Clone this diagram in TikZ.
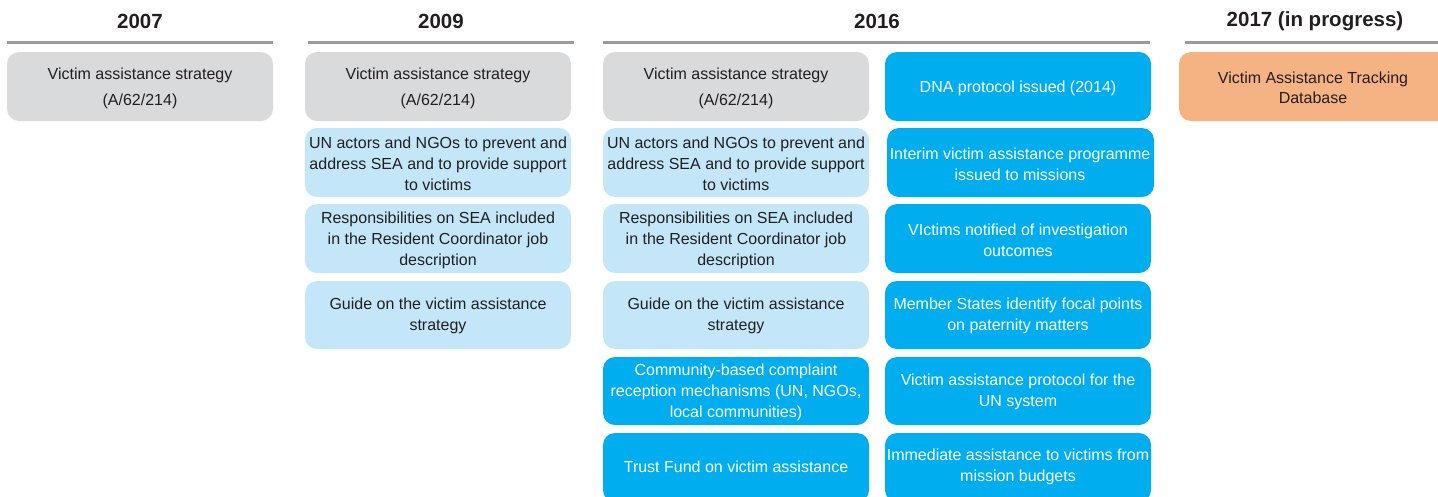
\documentclass[tikz,border=0pt]{standalone}
\usepackage{fontspec}
\setmainfont{Liberation Sans}
\definecolor{boxgray}{HTML}{D9DADC}
\definecolor{lightblue}{HTML}{C3E7F8}
\definecolor{unblue}{HTML}{00AEEF}
\definecolor{peach}{HTML}{F5B283}
\definecolor{rulegray}{HTML}{9A9A9C}
\definecolor{txt}{HTML}{231F20}
\begin{document}
\begin{tikzpicture}[x=1pt,y=-1pt,
  cardtext/.style={font=\fontsize{16}{21}\selectfont, align=center, text=txt},
  head/.style={font=\fontsize{20.5}{24}\selectfont\bfseries, text=txt},
  yearrule/.style={draw=rulegray, line width=3pt}]
\useasboundingbox (0,0) rectangle (1438,496);
\clip (0,0) rectangle (1438,496);
% headers
\node[head] (h2007) at (140,21) {2007};
\node[head] (h2009) at (441,21) {2009};
\node[head] (h2016) at (877,21) {2016};
\node[head] (h2017) at (1315,21) {2017 (in progress)};
\draw[yearrule] (7,42) -- (273,42);
\draw[yearrule] (308,42) -- (574,42);
\draw[yearrule] (603,42) -- (1150,42);
\draw[yearrule] (1185,42) -- (1438,42);
% 2007
\fill[boxgray, rounded corners=12pt] (7,52) rectangle (273,121);
\node[cardtext, font=\fontsize{16}{26}\selectfont] (a1) at (140,88) {Victim assistance strategy\\(A/62/214)};
% 2009
\fill[boxgray, rounded corners=12pt] (305,52) rectangle (571,121);
\node[cardtext, font=\fontsize{16}{26}\selectfont] (b1) at (438,88) {Victim assistance strategy\\(A/62/214)};
\fill[lightblue, rounded corners=12pt] (305,128) rectangle (571,197);
\node[cardtext] (b2) at (438,164) {UN actors and NGOs to prevent and\\address SEA and to provide support\\to victims};
\fill[lightblue, rounded corners=12pt] (305,204) rectangle (571,273);
\node[cardtext] (b3) at (438,240) {Responsibilities on SEA included\\in the Resident Coordinator job\\description};
\fill[lightblue, rounded corners=12pt] (305,281) rectangle (571,349);
\node[cardtext] (b4) at (438,316) {Guide on the victim assistance\\strategy};
% 2016 left
\fill[boxgray, rounded corners=12pt] (603,52) rectangle (869,121);
\node[cardtext, font=\fontsize{16}{26}\selectfont] (c1) at (736,88) {Victim assistance strategy\\(A/62/214)};
\fill[lightblue, rounded corners=12pt] (603,128) rectangle (869,197);
\node[cardtext] (c2) at (736,164) {UN actors and NGOs to prevent and\\address SEA and to provide support\\to victims};
\fill[lightblue, rounded corners=12pt] (603,204) rectangle (869,273);
\node[cardtext] (c3) at (736,240) {Responsibilities on SEA included\\in the Resident Coordinator job\\description};
\fill[lightblue, rounded corners=12pt] (603,281) rectangle (869,349);
\node[cardtext] (c4) at (736,316) {Guide on the victim assistance\\strategy};
\fill[unblue, rounded corners=12pt] (603,357) rectangle (869,425);
\node[cardtext, text=white] (c5) at (736,392) {Community-based complaint\\reception mechanisms (UN, NGOs,\\local communities)};
\fill[unblue, rounded corners=12pt] (603,433) rectangle (869,502);
\node[cardtext, text=white] (c6) at (736,467) {Trust Fund on victim assistance};
% 2016 right
\fill[unblue, rounded corners=12pt] (885,52) rectangle (1151,121);
\node[cardtext, text=white] (d1) at (1018,88) {DNA protocol issued (2014)};
\fill[unblue, rounded corners=12pt] (887,128) rectangle (1154,197);
\node[cardtext, text=white] (d2) at (1020,164) {Interim victim assistance programme\\issued to missions};
\fill[unblue, rounded corners=12pt] (885,204) rectangle (1151,273);
\node[cardtext, text=white] (d3) at (1018,240) {VIctims notified of investigation\\outcomes};
\fill[unblue, rounded corners=12pt] (885,281) rectangle (1151,349);
\node[cardtext, text=white] (d4) at (1018,316) {Member States identify focal points\\on paternity matters};
\fill[unblue, rounded corners=12pt] (885,357) rectangle (1151,425);
\node[cardtext, text=white] (d5) at (1018,392) {Victim assistance protocol for the\\UN system};
\fill[unblue, rounded corners=12pt] (885,433) rectangle (1151,502);
\node[cardtext, text=white] (d6) at (1018,467) {Immediate assistance to victims from\\mission budgets};
% 2017
\fill[peach, rounded corners=12pt] (1179,52) rectangle (1450,121);
\node[cardtext, font=\fontsize{16}{20}\selectfont] (e1) at (1313,88) {Victim Assistance Tracking\\Database};
\end{tikzpicture}
\end{document}
